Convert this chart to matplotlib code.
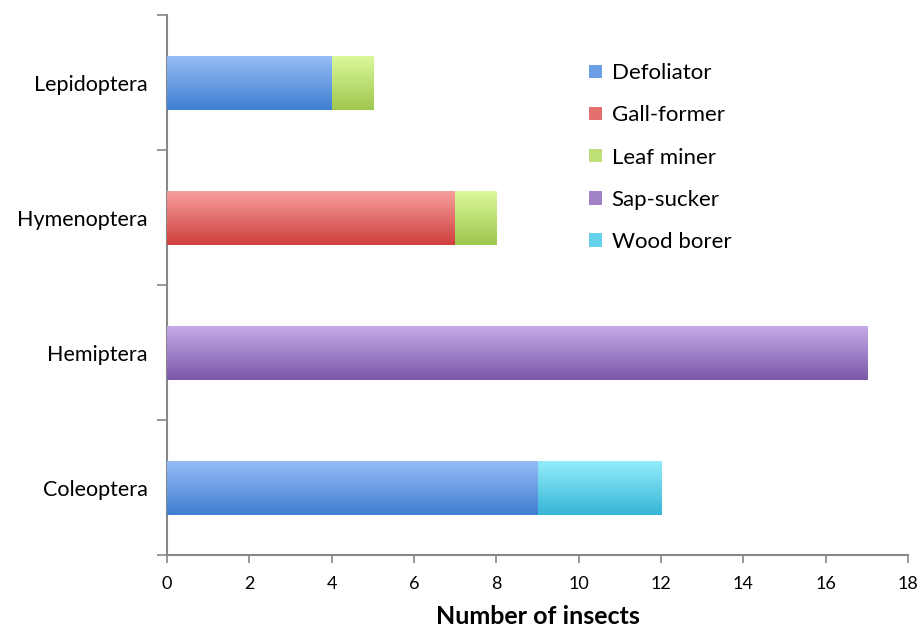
import numpy as np
import matplotlib
matplotlib.use("Agg")
import matplotlib.pyplot as plt
from matplotlib.colors import LinearSegmentedColormap

plt.rcParams["font.family"] = ["Lato", "DejaVu Sans"]

# Insect orders (bottom to top) and counts per feeding guild
orders = ["Coleoptera", "Hemiptera", "Hymenoptera", "Lepidoptera"]
guilds = ["Defoliator", "Gall-former", "Leaf miner", "Sap-sucker", "Wood borer"]
defoliator  = [9, 0, 0, 4]
gall_former = [0, 0, 7, 0]
leaf_miner  = [0, 0, 1, 1]
sap_sucker  = [0, 17, 0, 0]
wood_borer  = [3, 0, 0, 0]
series = [defoliator, gall_former, leaf_miner, sap_sucker, wood_borer]

# (top, bottom) gradient colours for each guild
grad = [("#97bdf7", "#3f7fd0"),
        ("#f7a09e", "#cf3f3d"),
        ("#dcf99c", "#9fc74e"),
        ("#c6acea", "#7c58a8"),
        ("#94eefb", "#36b5d6")]

fig = plt.figure(figsize=(9.22, 6.28), dpi=100)
ax = fig.add_axes([0.181, 0.116, 0.804, 0.860])

y = np.arange(len(orders))
h = 0.4
left = np.zeros(len(orders))
for vals, name, (ctop, cbot) in zip(series, guilds, grad):
    vals = np.array(vals, dtype=float)
    cmap = LinearSegmentedColormap.from_list(name, [cbot, ctop])
    bars = ax.barh(y, vals, h, left=left, color=cmap(0.5), label=name,
                   edgecolor="none", zorder=2)
    for b, v, l, yy in zip(bars, vals, left, y):
        if v <= 0:
            continue
        im = ax.imshow(np.linspace(0, 1, 64).reshape(-1, 1), cmap=cmap,
                       origin="lower", aspect="auto",
                       extent=[l, l + v, yy - h / 2, yy + h / 2], zorder=3)
        im.set_clip_path(b)
    left += vals

ax.set_xlim(0, 18)
ax.set_ylim(-0.5, 3.5)
ax.set_xticks(np.arange(0, 19, 2))
ax.set_yticks(np.arange(-0.5, 4, 1))
ax.set_yticklabels([])
ax.set_yticks(y, minor=True)
ax.set_yticklabels(orders, minor=True, fontsize=15.5)
ax.tick_params(axis="y", which="minor", length=0, pad=14)
ax.tick_params(axis="y", which="major", length=7, width=1.2, color="#888888")
ax.tick_params(axis="x", length=6, width=1.2, color="#888888", labelsize=13, pad=9)

for s in ["top", "right"]:
    ax.spines[s].set_visible(False)
for s in ["left", "bottom"]:
    ax.spines[s].set_color("#888888")
    ax.spines[s].set_linewidth(1.5)

ax.set_xlabel("Number of insects", fontsize=18, fontweight="bold", labelpad=9.5)

ax.legend(loc="upper left", bbox_to_anchor=(0.543, 0.948), frameon=False,
          fontsize=16, handlelength=0.55, handleheight=0.55,
          handletextpad=0.45, labelspacing=1.0)

fig.savefig("out.png", dpi=100)
